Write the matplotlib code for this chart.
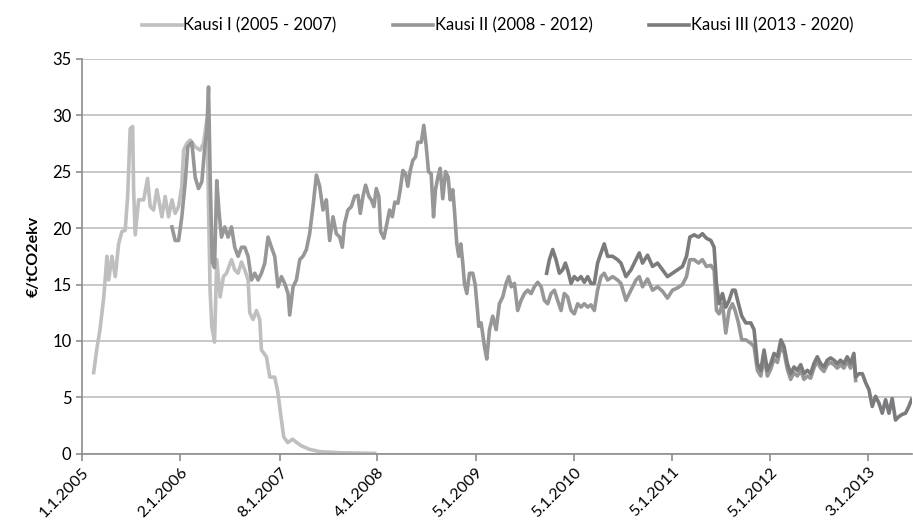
import numpy as np
import pandas as pd
import matplotlib
matplotlib.use('agg')
import matplotlib.pyplot as plt

plt.rcParams['font.family'] = ['Lato', 'DejaVu Sans']

# time as decimal years, price in EUR / tCO2
t1 = [2005.119, 2005.153, 2005.183, 2005.221, 2005.254, 2005.272, 2005.305, 2005.339, 2005.373, 2005.407,
      2005.440, 2005.465, 2005.491, 2005.516, 2005.526, 2005.542, 2005.577, 2005.628, 2005.668, 2005.695,
      2005.729, 2005.763, 2005.814, 2005.847, 2005.882, 2005.916, 2005.949, 2005.984, 2006.017, 2006.035,
      2006.068, 2006.102, 2006.153, 2006.203, 2006.238, 2006.272, 2006.305, 2006.322, 2006.350, 2006.373,
      2006.407, 2006.441, 2006.472, 2006.523, 2006.556, 2006.590, 2006.625, 2006.658, 2006.692, 2006.709,
      2006.743, 2006.777, 2006.811, 2006.828, 2006.879, 2006.913, 2006.963, 2006.994, 2007.024, 2007.055,
      2007.096, 2007.146, 2007.187, 2007.238, 2007.319, 2007.421, 2007.625, 2007.828, 2007.981]
p1 = [7.2, 9.4, 11.0, 13.8, 17.5, 15.4, 17.5, 15.7, 18.6, 19.7,
      19.8, 22.8, 28.8, 29.0, 23.4, 19.4, 22.5, 22.5, 24.4, 21.9,
      21.6, 23.4, 21.0, 22.8, 21.0, 22.5, 21.3, 21.9, 23.7, 26.9,
      27.5, 27.8, 27.2, 26.9, 27.5, 29.6, 14.5, 11.3, 9.9, 17.2,
      13.9, 15.7, 16.0, 17.2, 16.3, 16.0, 17.0, 16.3, 15.4, 12.5,
      11.9, 12.7, 11.9, 9.2, 8.6, 6.8, 6.8, 5.5, 3.5, 1.5,
      1.0, 1.3, 1.0, 0.7, 0.4, 0.2, 0.1, 0.07, 0.05]

t2 = [2005.916, 2005.949, 2005.984, 2006.017, 2006.051, 2006.078, 2006.119, 2006.153, 2006.187, 2006.221,
      2006.248, 2006.272, 2006.289, 2006.307, 2006.327, 2006.350, 2006.373, 2006.397, 2006.421, 2006.455,
      2006.488, 2006.523, 2006.556, 2006.590, 2006.625, 2006.658, 2006.692, 2006.726, 2006.760, 2006.794,
      2006.828, 2006.862, 2006.895, 2006.930, 2006.963, 2006.997, 2007.032, 2007.065, 2007.099, 2007.116,
      2007.150, 2007.184, 2007.218, 2007.251, 2007.286, 2007.319, 2007.353, 2007.388, 2007.421, 2007.455,
      2007.489, 2007.523, 2007.557, 2007.591, 2007.625, 2007.652, 2007.675, 2007.709, 2007.744, 2007.777,
      2007.811, 2007.835, 2007.862, 2007.889, 2007.923, 2007.947, 2007.974, 2007.998, 2008.024, 2008.042,
      2008.075, 2008.106, 2008.133, 2008.161, 2008.187, 2008.218, 2008.242, 2008.269, 2008.296, 2008.319,
      2008.344, 2008.370, 2008.398, 2008.421, 2008.456, 2008.482, 2008.507, 2008.530, 2008.557, 2008.581,
      2008.601, 2008.625, 2008.649, 2008.675, 2008.703, 2008.730, 2008.751, 2008.777, 2008.794, 2008.818,
      2008.838, 2008.859, 2008.879, 2008.896, 2008.920, 2008.947, 2008.981, 2009.005, 2009.026, 2009.042,
      2009.066, 2009.100, 2009.123, 2009.151, 2009.184, 2009.219, 2009.252, 2009.286, 2009.320, 2009.347,
      2009.373, 2009.405, 2009.438, 2009.473, 2009.507, 2009.540, 2009.575, 2009.608, 2009.642, 2009.677,
      2009.710, 2009.744, 2009.778, 2009.812, 2009.845, 2009.880, 2009.913, 2009.947, 2009.982, 2010.015,
      2010.049, 2010.083, 2010.117, 2010.151, 2010.185, 2010.219, 2010.252, 2010.287, 2010.320, 2010.354,
      2010.405, 2010.456, 2010.490, 2010.541, 2010.592, 2010.643, 2010.677, 2010.710, 2010.761, 2010.812,
      2010.863, 2010.914, 2010.964, 2011.015, 2011.066, 2011.117, 2011.158, 2011.192, 2011.236, 2011.280,
      2011.320, 2011.361, 2011.406, 2011.439, 2011.463, 2011.490, 2011.524, 2011.558, 2011.592, 2011.626,
      2011.653, 2011.687, 2011.721, 2011.762, 2011.813, 2011.846, 2011.880, 2011.915, 2011.948, 2011.982,
      2012.016, 2012.050, 2012.084, 2012.120, 2012.152, 2012.185, 2012.219, 2012.253, 2012.287, 2012.321,
      2012.355, 2012.389, 2012.422, 2012.456, 2012.490, 2012.524, 2012.558, 2012.592, 2012.626, 2012.660,
      2012.693, 2012.727, 2012.761, 2012.795, 2012.829, 2012.863, 2012.881]
p2 = [20.1, 18.9, 18.9, 21.0, 24.0, 27.2, 27.6, 24.5, 23.5, 24.1,
      26.9, 28.7, 32.5, 24.0, 17.0, 16.5, 24.2, 21.3, 19.2, 20.1,
      19.2, 20.1, 18.3, 17.5, 18.3, 18.3, 17.5, 15.4, 16.0, 15.4,
      16.0, 16.9, 19.2, 18.3, 17.5, 14.8, 15.7, 15.1, 14.2, 12.3,
      14.8, 15.4, 17.2, 17.5, 18.1, 19.5, 21.9, 24.7, 23.7, 21.6,
      22.5, 18.9, 21.0, 19.5, 19.2, 18.3, 20.4, 21.6, 21.9, 22.8,
      22.9, 21.3, 22.8, 23.8, 22.8, 22.5, 21.9, 23.5, 22.8, 19.7,
      19.1, 20.4, 21.6, 21.0, 22.3, 22.2, 23.4, 25.1, 24.8, 23.7,
      25.1, 26.0, 26.3, 27.6, 27.6, 29.1, 27.2, 25.0, 24.8, 21.0,
      23.4, 24.5, 25.3, 22.6, 25.0, 24.5, 22.5, 23.4, 21.6, 18.6,
      17.5, 18.6, 16.9, 15.1, 14.2, 16.0, 16.0, 15.0, 13.0, 11.3,
      11.6, 9.5, 8.4, 11.0, 12.2, 11.0, 13.3, 13.9, 15.1, 15.7,
      14.8, 15.1, 12.7, 13.6, 14.2, 14.5, 14.2, 14.8, 15.2, 14.8,
      13.6, 13.3, 14.2, 14.5, 13.6, 12.7, 14.2, 13.9, 12.7, 12.4,
      13.3, 13.0, 13.3, 13.0, 13.2, 12.7, 14.5, 15.7, 16.0, 15.4,
      15.7, 15.4, 15.1, 13.6, 14.5, 15.4, 15.7, 14.8, 15.5, 14.5,
      14.8, 14.4, 13.8, 14.5, 14.7, 15.0, 15.7, 17.2, 17.2, 16.9,
      17.2, 16.6, 16.7, 16.3, 12.7, 12.4, 13.3, 10.7, 12.7, 13.3,
      12.7, 11.6, 10.1, 10.1, 9.8, 9.5, 7.4, 6.9, 8.6, 6.9,
      7.5, 8.4, 8.1, 9.5, 9.0, 7.5, 6.6, 7.2, 6.9, 7.4,
      6.6, 6.9, 6.7, 7.6, 8.2, 7.6, 7.3, 7.9, 8.1, 7.9,
      7.6, 7.9, 7.6, 8.2, 7.6, 8.5, 6.5]

t3 = [2009.733, 2009.761, 2009.795, 2009.829, 2009.863, 2009.896, 2009.924, 2009.947, 2009.982, 2010.015,
      2010.049, 2010.083, 2010.117, 2010.151, 2010.185, 2010.219, 2010.252, 2010.287, 2010.320, 2010.354,
      2010.405, 2010.456, 2010.490, 2010.541, 2010.592, 2010.643, 2010.677, 2010.710, 2010.761, 2010.812,
      2010.863, 2010.914, 2010.964, 2011.015, 2011.066, 2011.117, 2011.158, 2011.192, 2011.236, 2011.280,
      2011.320, 2011.361, 2011.406, 2011.439, 2011.463, 2011.490, 2011.524, 2011.558, 2011.592, 2011.626,
      2011.653, 2011.687, 2011.721, 2011.762, 2011.813, 2011.846, 2011.880, 2011.915, 2011.948, 2011.982,
      2012.016, 2012.050, 2012.084, 2012.120, 2012.152, 2012.185, 2012.219, 2012.253, 2012.287, 2012.321,
      2012.355, 2012.389, 2012.422, 2012.456, 2012.490, 2012.524, 2012.558, 2012.592, 2012.626, 2012.660,
      2012.693, 2012.727, 2012.761, 2012.795, 2012.829, 2012.863, 2012.881, 2012.915, 2012.949, 2012.983,
      2013.016, 2013.050, 2013.084, 2013.118, 2013.152, 2013.186, 2013.220, 2013.253, 2013.287, 2013.321,
      2013.355, 2013.389, 2013.423, 2013.450]
p3 = [16.0, 17.2, 18.1, 17.2, 16.0, 16.3, 16.9, 16.3, 15.1, 15.7,
      15.4, 15.7, 15.2, 15.7, 15.1, 15.1, 16.9, 17.8, 18.6, 17.5,
      17.5, 17.2, 16.9, 15.7, 16.3, 17.2, 17.8, 16.9, 17.6, 16.6,
      16.9, 16.3, 15.7, 16.0, 16.3, 16.6, 17.5, 19.2, 19.4, 19.2,
      19.5, 19.1, 18.9, 18.3, 15.1, 13.3, 14.2, 13.0, 13.6, 14.5,
      14.5, 13.3, 12.2, 11.6, 11.6, 11.0, 8.0, 7.4, 9.2, 7.4,
      8.0, 8.9, 8.6, 10.1, 9.5, 8.0, 7.1, 7.7, 7.4, 7.9,
      7.1, 7.4, 7.1, 8.0, 8.6, 8.0, 7.7, 8.3, 8.5, 8.3,
      8.0, 8.3, 8.0, 8.6, 8.0, 8.9, 6.8, 7.1, 7.1, 6.3,
      5.7, 4.2, 5.1, 4.5, 3.6, 4.8, 3.6, 4.9, 3.0, 3.3,
      3.5, 3.6, 4.2, 4.8]

labels = ['Kausi I (2005 - 2007)', 'Kausi II (2008 - 2012)', 'Kausi III (2013 - 2020)']
colors = ['#bfbfbf', '#979797', '#7b7b7d']

tick_dates = ['1.1.2005', '2.1.2006', '8.1.2007', '4.1.2008', '5.1.2009',
              '5.1.2010', '5.1.2011', '5.1.2012', '3.1.2013']

# date strings -> decimal years
d = pd.to_datetime(tick_dates, format='%d.%m.%Y')
tick_pos = d.year + (d.dayofyear - 1) / 365.0

fig = plt.figure(figsize=(9.13, 5.29), dpi=100)
ax = fig.add_axes([0.0898, 0.142, 0.909, 0.747])

for t, p, lab, c in zip([t1, t2, t3], [p1, p2, p3], labels, colors):
    ax.plot(t, p, color=c, lw=2.6, label=lab, solid_joinstyle='round')

ax.set_xlim(2005.0, 2013.454)
ax.set_ylim(0, 35)
ax.set_yticks(np.arange(0, 36, 5))
ax.set_xticks(tick_pos)
ax.set_xticklabels(tick_dates, rotation=45, ha='right', rotation_mode='anchor')

# grid and spines
ax.yaxis.grid(True, color='#bdbdbd', lw=1.2)
ax.set_axisbelow(True)
for s in ['top', 'right']:
    ax.spines[s].set_visible(False)
for s in ['left', 'bottom']:
    ax.spines[s].set_color('#8c8c8c')
    ax.spines[s].set_linewidth(1.2)
ax.tick_params(axis='x', colors='#8c8c8c', length=5, width=1.2, labelcolor='black', labelsize=11.5, pad=3)
ax.tick_params(axis='y', colors='#8c8c8c', length=4, width=1.2, labelcolor='black', labelsize=12)

ax.set_ylabel('€/tCO2ekv', fontsize=11.5, fontweight='bold', labelpad=8)

fig.legend(loc='center', bbox_to_anchor=(0.545, 0.952), ncol=3, frameon=False,
           fontsize=12, handlelength=2.4, handletextpad=0.1, columnspacing=3.4)

fig.savefig('out.png', dpi=100)
